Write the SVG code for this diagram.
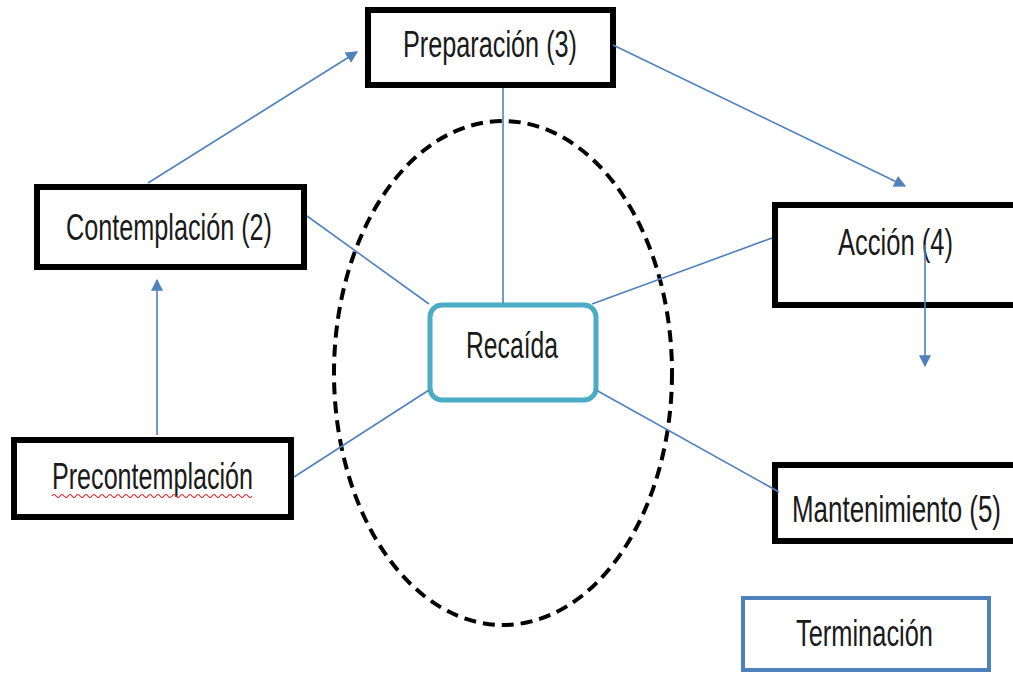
<svg xmlns="http://www.w3.org/2000/svg" width="1013" height="675" viewBox="0 0 1013 675">
  <style>
    .box { fill: #ffffff; stroke: #000000; stroke-width: 6; }
    .lbl { font-family: "Liberation Sans", Arial, sans-serif; font-size: 37px; fill: #1a1a1a; }
    .con { stroke: #4F81BD; stroke-width: 1.6; fill: none; }
  </style>
  <defs>
    <marker id="arrow" viewBox="0 0 10 10" refX="9" refY="5" markerWidth="12" markerHeight="12" markerUnits="userSpaceOnUse" orient="auto">
      <path d="M0,0 L10,5 L0,10 z" fill="#4F81BD"/>
    </marker>
  </defs>
  <rect width="1013" height="675" fill="#ffffff"/>

  <!-- relapse circle -->
  <ellipse cx="503" cy="373" rx="169" ry="252" fill="none" stroke="#000000" stroke-width="4" stroke-dasharray="12 7"/>

  <g id="preparacion">
    <rect class="box" x="368" y="10" width="245" height="75"/>
    <text class="lbl" x="403" y="57" textLength="174" lengthAdjust="spacingAndGlyphs">Preparación (3)</text>
  </g>

  <g id="contemplacion">
    <rect class="box" x="37" y="187" width="267" height="80"/>
    <text class="lbl" x="66" y="240" textLength="206" lengthAdjust="spacingAndGlyphs">Contemplación (2)</text>
  </g>

  <g id="accion">
    <rect class="box" x="775" y="205" width="250" height="100"/>
    <text class="lbl" x="838" y="255" textLength="115" lengthAdjust="spacingAndGlyphs">Acción (4)</text>
  </g>

  <g id="precontemplacion">
    <rect class="box" x="14" y="440" width="277" height="77"/>
    <text class="lbl" x="52" y="489" textLength="201" lengthAdjust="spacingAndGlyphs">Precontemplación</text>
    <path d="M52,496 q2,-3 4,0 t4,0 t4,0 t4,0 t4,0 t4,0 t4,0 t4,0 t4,0 t4,0 t4,0 t4,0 t4,0 t4,0 t4,0 t4,0 t4,0 t4,0 t4,0 t4,0 t4,0 t4,0 t4,0 t4,0 t4,0 t4,0 t4,0 t4,0 t4,0 t4,0 t4,0 t4,0 t4,0 t4,0 t4,0 t4,0 t4,0 t4,0 t4,0 t4,0 t4,0 t4,0 t4,0 t4,0 t4,0 t4,0 t4,0 t4,0 t4,0 t4,0" fill="none" stroke="#e02020" stroke-width="1.2"/>
  </g>

  <g id="recaida">
    <rect x="430" y="305" width="166" height="95" rx="12" ry="12" fill="#ffffff" stroke="#4BACC6" stroke-width="5"/>
    <text class="lbl" x="466" y="358" textLength="92" lengthAdjust="spacingAndGlyphs">Recaída</text>
  </g>

  <g id="mantenimiento">
    <rect class="box" x="775" y="465" width="250" height="76"/>
    <text class="lbl" x="792" y="522" textLength="209" lengthAdjust="spacingAndGlyphs">Mantenimiento (5)</text>
  </g>

  <g id="terminacion">
    <rect x="743" y="598" width="246" height="72" fill="#ffffff" stroke="#4F81BD" stroke-width="4"/>
    <text class="lbl" x="796" y="646" textLength="137" lengthAdjust="spacingAndGlyphs">Terminación</text>
  </g>

  <g id="connectors">
    <line class="con" x1="148" y1="183" x2="357" y2="52" marker-end="url(#arrow)"/>
    <line class="con" x1="613" y1="45" x2="905" y2="186" marker-end="url(#arrow)"/>
    <line class="con" x1="925" y1="245" x2="925" y2="366" marker-end="url(#arrow)"/>
    <line class="con" x1="157" y1="435" x2="157" y2="280" marker-end="url(#arrow)"/>
    <line class="con" x1="503" y1="88" x2="503" y2="303"/>
    <line class="con" x1="307" y1="216" x2="429" y2="304"/>
    <line class="con" x1="772" y1="238" x2="592" y2="304"/>
    <line class="con" x1="294" y1="477" x2="429" y2="390"/>
    <line class="con" x1="596" y1="390" x2="779" y2="492"/>
  </g>
</svg>
